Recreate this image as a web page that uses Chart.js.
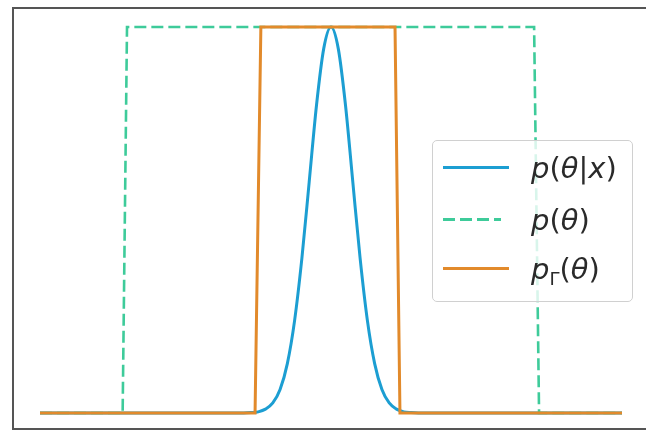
<!DOCTYPE html>
<html>
<head>
<meta charset="utf-8">
<script src="https://cdn.jsdelivr.net/npm/chart.js@4/dist/chart.umd.min.js"></script>
<style>
  html, body { margin: 0; padding: 0; background: #fff; }
  #wrap { position: relative; width: 646px; height: 431px; overflow: hidden; }
  #legend {
    position: absolute; left: 432px; top: 140px; width: 199px; height: 160px;
    border: 1px solid #d0d0d0; border-radius: 5px; background: rgba(255,255,255,0.8);
    font-family: "DejaVu Sans", sans-serif; font-size: 29px; color: #2a2a2a;
  }
  .row { position: absolute; left: 0; height: 40px; }
  .sample { position: absolute; left: 10px; width: 66px; height: 3px; top: 18px; }
  .lbl { position: absolute; left: 98px; white-space: nowrap; line-height: 40px; }
  .lbl i { font-style: italic; }
  .lbl sub { font-size: 18px; font-style: normal; vertical-align: -6px; }
</style>
</head>
<body>
<div id="wrap">
  <canvas id="chart" width="646" height="431"></canvas>
  <div id="legend"></div>
</div>
<script>
// posterior p(theta|x)
const postTheta = [-1, -0.3, -0.275, -0.25, -0.225, -0.2, -0.175, -0.15, -0.125, -0.1, -0.075, -0.05, -0.025,
                   0, 0.025, 0.05, 0.075, 0.1, 0.125, 0.15, 0.175, 0.2, 0.225, 0.25, 0.275, 0.3, 1];
const postValues = [0, 0, 0.001, 0.003, 0.010, 0.026, 0.061, 0.128, 0.240, 0.401, 0.598, 0.796, 0.944,
                    1.0, 0.944, 0.796, 0.598, 0.401, 0.240, 0.128, 0.061, 0.026, 0.010, 0.003, 0.001, 0, 0];

// prior p(theta)
const priorTheta = [-1, -0.716, -0.701, 0.698, 0.715, 1];
const priorValues = [0, 0, 1, 1, 0, 0];

// truncated prior p_Gamma(theta)
const truncTheta = [-1, -0.261, -0.241, 0.220, 0.237, 1];
const truncValues = [0, 0, 1, 1, 0, 0];

const seriesLabels = ['<i>p</i>(<i>θ</i>|<i>x</i>)', '<i>p</i>(<i>θ</i>)', '<i>p</i><sub>Γ</sub>(<i>θ</i>)'];
const seriesColors = ['#1c9ed2', '#3ecb9a', '#e28a2b'];

function toPoints(xs, ys) {
    return xs.map((x, i) => ({ x: x, y: ys[i] }));
}

const framePlugin = {
    id: 'frame',
    beforeDraw(chart) {
        const ctx = chart.ctx;
        ctx.save();
        ctx.fillStyle = '#fff';
        ctx.fillRect(0, 0, chart.width, chart.height);
        ctx.strokeStyle = '#555';
        ctx.lineWidth = 2;
        ctx.strokeRect(13, 8, 640, 421);
        ctx.restore();
    }
};

const ctx = document.getElementById('chart').getContext('2d');
new Chart(ctx, {
    type: 'line',
    data: {
        datasets: [
            {
                label: 'p(θ|x)',
                data: toPoints(postTheta, postValues),
                borderColor: seriesColors[0],
                borderWidth: 3,
                cubicInterpolationMode: 'monotone',
                pointRadius: 0,
                clip: 10,
                order: 3
            },
            {
                label: 'p(θ)',
                data: toPoints(priorTheta, priorValues),
                borderColor: seriesColors[1],
                borderWidth: 2.6,
                borderDash: [12, 5],
                pointRadius: 0,
                tension: 0,
                clip: 10,
                order: 2
            },
            {
                label: 'pΓ(θ)',
                data: toPoints(truncTheta, truncValues),
                borderColor: seriesColors[2],
                borderWidth: 3,
                pointRadius: 0,
                tension: 0,
                clip: 10,
                order: 1
            }
        ]
    },
    options: {
        responsive: false,
        animation: false,
        layout: { padding: { left: 40, right: 24, top: 27, bottom: 18 } },
        plugins: { legend: { display: false }, tooltip: { enabled: false } },
        scales: {
            x: { type: 'linear', min: -1, max: 1, display: false },
            y: { type: 'linear', min: 0, max: 1, display: false }
        }
    },
    plugins: [framePlugin]
});

// legend
const legend = document.getElementById('legend');
const rowTops = [7, 59, 108];
seriesLabels.forEach((lbl, i) => {
    const row = document.createElement('div');
    row.className = 'row';
    row.style.top = rowTops[i] + 'px';
    const c = seriesColors[i];
    const fill = i === 1
        ? `repeating-linear-gradient(to right, ${c} 0 12px, transparent 12px 17px)`
        : c;
    const w = i === 1 ? 58 : 66;
    row.innerHTML = `<div class="sample" style="width:${w}px;background:${fill}"></div>
                     <div class="lbl">${lbl}</div>`;
    legend.appendChild(row);
});
</script>
</body>
</html>
